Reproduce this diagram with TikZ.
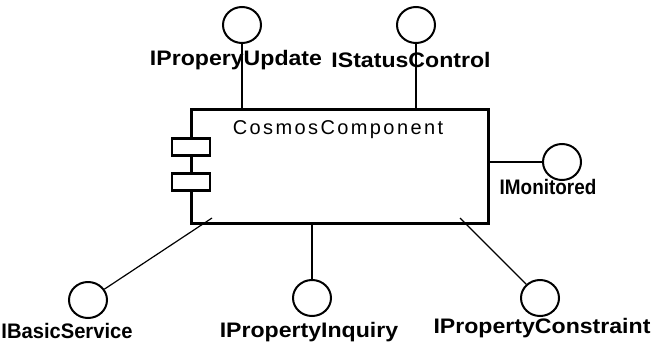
\documentclass[tikz,border=0pt]{standalone}
\usepackage{fontspec}
\setmainfont{Liberation Sans}
\newfontfamily\lblfont[FakeStretch=1.1]{Liberation Sans}
\newfontfamily\lblnarrow[FakeStretch=0.96]{Liberation Sans}
\newfontfamily\lblnarrower[FakeStretch=0.9]{Liberation Sans}
\newfontfamily\titlefont[LetterSpace=12]{Liberation Sans}
\usetikzlibrary{shapes.geometric}
\begin{document}
\begin{tikzpicture}[x=1pt,y=-1pt]
\tikzset{
  iface/.style={draw, ellipse, line width=2pt, minimum width=38pt, minimum height=36pt, inner sep=0pt},
  lbl/.style={font=\lblfont\bfseries\fontsize{21}{21}\selectfont, inner sep=0pt},
  lbln/.style={lbl, font=\lblnarrow\bfseries\fontsize{21}{21}\selectfont},
  lblnn/.style={lbl, font=\lblnarrower\bfseries\fontsize{21}{21}\selectfont},
  conn/.style={line width=1.2pt},
  part/.style={draw, line width=2.5pt, fill=white, minimum width=38pt, minimum height=17pt, inner sep=0pt}
}
\useasboundingbox[fill=white] (0,0) rectangle (652,343);
\node[draw, line width=2.5pt, minimum width=297pt, minimum height=114pt, inner sep=0pt, anchor=north west] (comp) at (190,108) {};
\node[part] (p1) at (191,147) {};
\node[part] (p2) at (191,182) {};
\node[font=\titlefont\fontsize{20}{20}\selectfont, inner sep=0pt] (title) at (338,130) {CosmosComponent};

\node[iface] (iu) at (242,25) {};
\node[lbl] (iul) at (236,60) {IProperyUpdate};
\draw[conn] (iu) -- (iu |- comp.north);
\node[iface] (isc) at (416,25) {};
\node[lbl] (iscl) at (411,60) {IStatusControl};
\draw[conn] (isc) -- (isc |- comp.north);

\node[iface] (im) at (562,162) {};
\node[lblnn] (iml) at (548,187) {IMonitored};
\draw[conn] (comp.east |- im) -- (im);

\node[iface] (ib) at (88,300) {};
\node[lbln] (ibl) at (67,331) {IBasicService};
\coordinate (cb) at (212,218);
\draw[conn] (cb) -- (ib);

\node[iface] (ipi) at (312,298) {};
\node[lbl] (ipil) at (309,332) {IPropertyInquiry};
\draw[conn] (ipi) -- (ipi |- comp.south);

\node[iface] (ipc) at (540,298) {};
\node[lbl] (ipcl) at (542,328) {IPropertyConstraint};
\coordinate (cc) at (460,218);
\draw[conn] (cc) -- (ipc);
\end{tikzpicture}
\end{document}
